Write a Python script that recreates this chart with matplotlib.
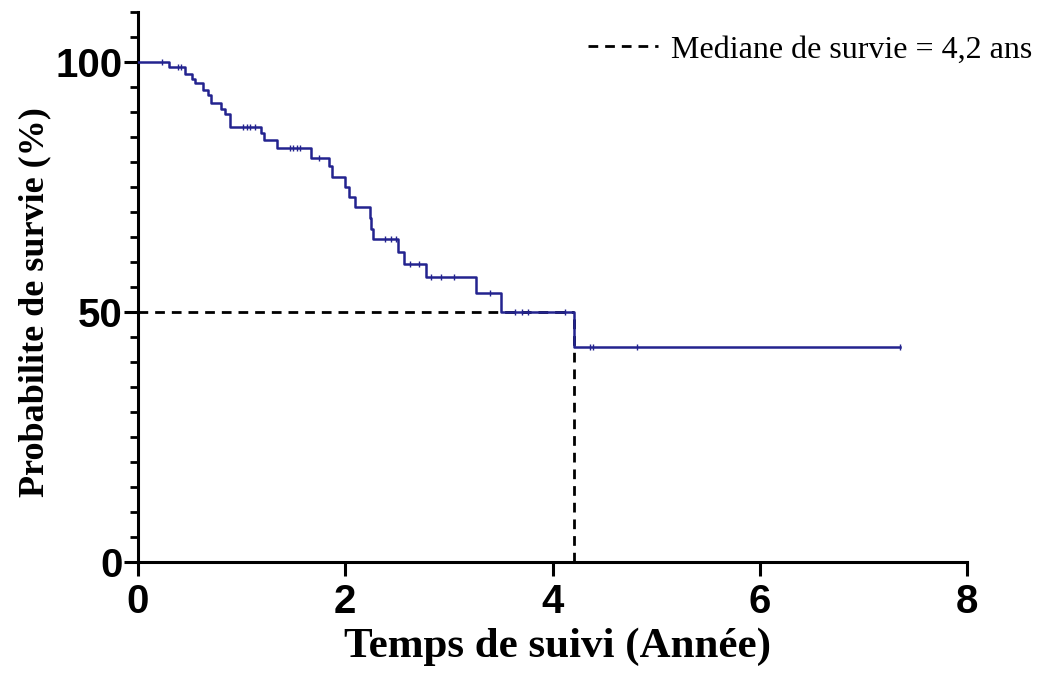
import matplotlib.pyplot as plt
import numpy as np
from matplotlib.ticker import MultipleLocator

# Kaplan-Meier step data (years, % survival)
times = [0, 0.30, 0.45, 0.52, 0.55, 0.63, 0.68, 0.70, 0.80, 0.84, 0.89, 1.19, 1.22,
         1.34, 1.67, 1.84, 1.87, 2.00, 2.04, 2.09, 2.24, 2.25, 2.27, 2.51, 2.57,
         2.78, 3.26, 3.50, 4.21, 7.35]
surv = [100, 99.0, 97.5, 96.6, 95.7, 94.4, 93.4, 91.7, 90.5, 89.5, 87.0, 85.7, 84.3,
        82.7, 80.7, 79.1, 77.0, 75.0, 73.0, 70.9, 68.7, 66.5, 64.5, 61.9, 59.6,
        57.0, 53.7, 50.0, 42.9, 42.9]

# censored observations
censor_times = [0.23, 0.39, 0.41, 1.01, 1.05, 1.08, 1.13, 1.47, 1.50, 1.53, 1.56,
                1.75, 2.38, 2.44, 2.49, 2.62, 2.71, 2.83, 2.92, 3.05, 3.40, 3.64,
                3.70, 3.76, 4.12, 4.36, 4.39, 4.81, 7.35]

median_time = 4.21
median_label = "Mediane de survie = 4,2 ans"

line_color = '#23238f'

fig = plt.figure(figsize=(10.4, 6.78), dpi=100)
ax = fig.add_axes([0.1327, 0.1711, 0.7973, 0.8112])

ax.step(times, surv, where='post', color=line_color, lw=1.8, zorder=3)

# censor ticks
idx = np.searchsorted(times, censor_times, side='right') - 1
censor_surv = np.array(surv)[idx]
ax.plot(censor_times, censor_surv, ls='none', marker='|', ms=4, mew=1.0,
        color=line_color, zorder=3)

# median lines
ax.plot([0, median_time], [50, 50], ls=(0, (3.5, 2.5)), color='black', lw=2,
        zorder=2, label=median_label)
ax.plot([median_time, median_time], [0, 50], ls=(0, (3.5, 2.5)), color='black',
        lw=2, zorder=2)

ax.set_xlim(0, 8)
ax.set_ylim(0, 110)
ax.set_xticks([0, 2, 4, 6, 8])
ax.set_yticks([0, 50, 100])
ax.yaxis.set_minor_locator(MultipleLocator(5))

for s in ['top', 'right']:
    ax.spines[s].set_visible(False)
for s in ['left', 'bottom']:
    ax.spines[s].set_linewidth(2.2)

ax.tick_params(which='major', length=10, width=2.2, direction='out')
ax.tick_params(axis='x', which='major', pad=5)
ax.tick_params(axis='y', which='major', pad=1)
ax.tick_params(axis='y', which='minor', length=6, width=2)
for lab in ax.get_xticklabels() + ax.get_yticklabels():
    lab.set_family('Liberation Sans')
    lab.set_weight('bold')
    lab.set_size(29)

fig.text(557 / 1040, 1 - 647 / 678, "Temps de suivi (Année)", family='Liberation Serif',
         weight='bold', size=31, ha='center', va='center')
fig.text(35 / 1040, 1 - 302 / 678, "Probabilite de survie (%)", family='Liberation Serif',
         weight='bold', size=26, ha='center', va='center', rotation=90)

leg = ax.legend(loc='center right', frameon=False, handlelength=2.2,
                handletextpad=0.4, borderpad=0, borderaxespad=0,
                prop={'family': 'Liberation Serif', 'size': 23},
                bbox_to_anchor=(1032 / 1040, 1 - 50 / 678),
                bbox_transform=fig.transFigure)

fig.savefig('out.png', dpi=100)
